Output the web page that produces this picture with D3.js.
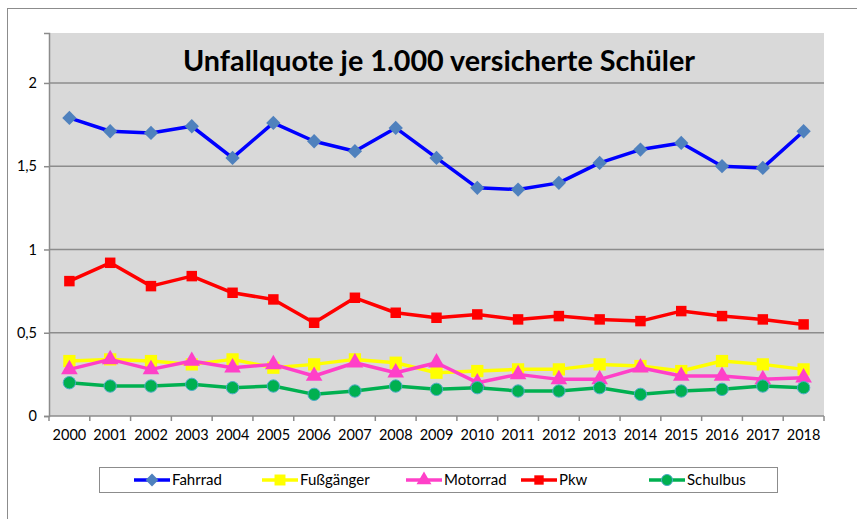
<!DOCTYPE html>
<html>
<head>
<meta charset="utf-8">
<script src="https://cdn.jsdelivr.net/npm/d3@7"></script>
<style>
  body { margin: 0; background: #fff; }
  text { font-family: Lato, "Open Sans", sans-serif; }
</style>
</head>
<body>
<div id="chart"></div>
<script>
// data
var years = ["2000", "2001", "2002", "2003", "2004", "2005", "2006", "2007", "2008", "2009",
    "2010", "2011", "2012", "2013", "2014", "2015", "2016", "2017", "2018"];
var fahrrad = [1.79, 1.71, 1.70, 1.74, 1.55, 1.76, 1.65, 1.59, 1.73, 1.55, 1.37, 1.36, 1.40, 1.52, 1.60, 1.64, 1.50, 1.49, 1.71];
var fussgaenger = [0.33, 0.34, 0.33, 0.31, 0.34, 0.29, 0.31, 0.34, 0.32, 0.26, 0.27, 0.28, 0.28, 0.31, 0.30, 0.27, 0.33, 0.31, 0.28];
var motorrad = [0.28, 0.34, 0.28, 0.33, 0.29, 0.31, 0.24, 0.32, 0.26, 0.32, 0.20, 0.25, 0.22, 0.22, 0.29, 0.24, 0.24, 0.22, 0.23];
var pkw = [0.81, 0.92, 0.78, 0.84, 0.74, 0.70, 0.56, 0.71, 0.62, 0.59, 0.61, 0.58, 0.60, 0.58, 0.57, 0.63, 0.60, 0.58, 0.55];
var schulbus = [0.20, 0.18, 0.18, 0.19, 0.17, 0.18, 0.13, 0.15, 0.18, 0.16, 0.17, 0.15, 0.15, 0.17, 0.13, 0.15, 0.16, 0.18, 0.17];
var yTicks = [0, 0.5, 1, 1.5, 2];
var seriesNames = ["Fahrrad", "Fußgänger", "Motorrad", "Pkw", "Schulbus"];

var width = 857, height = 519;
var plot = {left: 49, top: 33, right: 824, bottom: 416};

var svg = d3.select("#chart").append("svg")
    .attr("width", width)
    .attr("height", height);

// outer chart border
svg.append("rect")
    .attr("x", 7.5).attr("y", 8.5)
    .attr("width", 870).attr("height", 530)
    .attr("fill", "#fff")
    .attr("stroke", "#8c8c8c")
    .attr("stroke-width", 1);

var x = d3.scaleBand().domain(years).range([plot.left, plot.right]);
var y = d3.scaleLinear().domain([0, 2.3]).range([plot.bottom, plot.top]);

// plot background
svg.append("rect")
    .attr("x", plot.left).attr("y", plot.top)
    .attr("width", plot.right - plot.left).attr("height", plot.bottom - plot.top)
    .attr("fill", "#d9d9d9");

// gridlines
svg.append("g").selectAll("line")
    .data(yTicks.filter(d => d > 0))
    .enter().append("line")
    .attr("x1", plot.left).attr("x2", plot.right)
    .attr("y1", d => y(d)).attr("y2", d => y(d))
    .attr("stroke", "#8c8c8c")
    .attr("stroke-width", 1.5);

// y axis
var yAxis = svg.append("g")
    .attr("transform", `translate(${plot.left},0)`)
    .call(d3.axisLeft(y).tickValues(yTicks).tickSize(5).tickPadding(7)
        .tickFormat(d => String(d).replace(".", ",")));
yAxis.select(".domain").attr("stroke", "#8c8c8c").attr("stroke-width", 1.5);
yAxis.selectAll(".tick line").attr("stroke", "#8c8c8c").attr("stroke-width", 1.5);
yAxis.selectAll("text").attr("font-size", 14.5).attr("fill", "#000")
    .style("font-family", "Lato, sans-serif");

// x axis: ticks at category boundaries
var xAxis = svg.append("g")
    .attr("transform", `translate(0,${plot.bottom})`)
    .call(d3.axisBottom(x).tickSize(0).tickPadding(14));
xAxis.select(".domain").remove();
xAxis.append("line")
    .attr("x1", plot.left).attr("x2", plot.right)
    .attr("stroke", "#8c8c8c").attr("stroke-width", 1.5);
xAxis.selectAll(".bound")
    .data(years.concat(["end"]))
    .enter().append("line")
    .attr("class", "bound")
    .attr("x1", (d, i) => plot.left + i * x.step())
    .attr("x2", (d, i) => plot.left + i * x.step())
    .attr("y1", 0).attr("y2", 5)
    .attr("stroke", "#8c8c8c").attr("stroke-width", 1.5);
xAxis.selectAll(".tick text").attr("font-size", 14.5).attr("fill", "#000")
    .style("font-family", "Lato, sans-serif");

// title
svg.append("text")
    .attr("x", 439).attr("y", 71)
    .attr("text-anchor", "middle")
    .attr("font-size", 28)
    .attr("font-weight", "bold")
    .attr("fill", "#000")
    .attr("textLength", 512)
    .attr("lengthAdjust", "spacingAndGlyphs")
    .text("Unfallquote je 1.000 versicherte Schüler");

var series = [
    {name: seriesNames[0], values: fahrrad, line: "#0000ff", fill: "#4f81bd", stroke: "none", symbol: d3.symbolDiamond2, size: 130},
    {name: seriesNames[1], values: fussgaenger, line: "#ffff00", fill: "#ffff00", stroke: "none", symbol: d3.symbolSquare, size: 150},
    {name: seriesNames[2], values: motorrad, line: "#ff40c8", fill: "#ff40c8", stroke: "none", symbol: d3.symbolTriangle, size: 120},
    {name: seriesNames[3], values: pkw, line: "#ff0000", fill: "#ff0000", stroke: "none", symbol: d3.symbolSquare, size: 110},
    {name: seriesNames[4], values: schulbus, line: "#00b050", fill: "#00b050", stroke: "#4bacc6", symbol: d3.symbolCircle, size: 120}
];

var line = d3.line()
    .x((d, i) => x(years[i]) + x.bandwidth() / 2)
    .y(d => y(d));

series.forEach(function (s) {
    var g = svg.append("g");
    g.append("path")
        .attr("d", line(s.values))
        .attr("fill", "none")
        .attr("stroke", s.line)
        .attr("stroke-width", 3.5)
        .attr("stroke-linejoin", "round");
    g.selectAll("path.pt")
        .data(s.values)
        .enter().append("path")
        .attr("class", "pt")
        .attr("d", d3.symbol().type(s.symbol).size(s.size))
        .attr("transform", (d, i) => `translate(${x(years[i]) + x.bandwidth() / 2},${y(d)})`)
        .attr("fill", s.fill)
        .attr("stroke", s.stroke)
        .attr("stroke-width", 1);
});

// legend
svg.append("rect")
    .attr("x", 99.5).attr("y", 467.5)
    .attr("width", 678).attr("height", 25)
    .attr("fill", "#fff")
    .attr("stroke", "#8c8c8c");

var legendX = [134, 262, 406, 521, 649];
series.forEach(function (s, i) {
    var lx = legendX[i], ly = 480;
    svg.append("line")
        .attr("x1", lx).attr("x2", lx + 36)
        .attr("y1", ly).attr("y2", ly)
        .attr("stroke", s.line).attr("stroke-width", 3.5);
    svg.append("path")
        .attr("d", d3.symbol().type(s.symbol).size(s.size * 0.8))
        .attr("transform", `translate(${lx + 18},${ly})`)
        .attr("fill", s.fill)
        .attr("stroke", s.stroke);
    svg.append("text")
        .attr("x", lx + 38).attr("y", ly + 5)
        .attr("font-size", 15)
        .attr("fill", "#000")
        .text(s.name);
});
</script>
</body>
</html>
